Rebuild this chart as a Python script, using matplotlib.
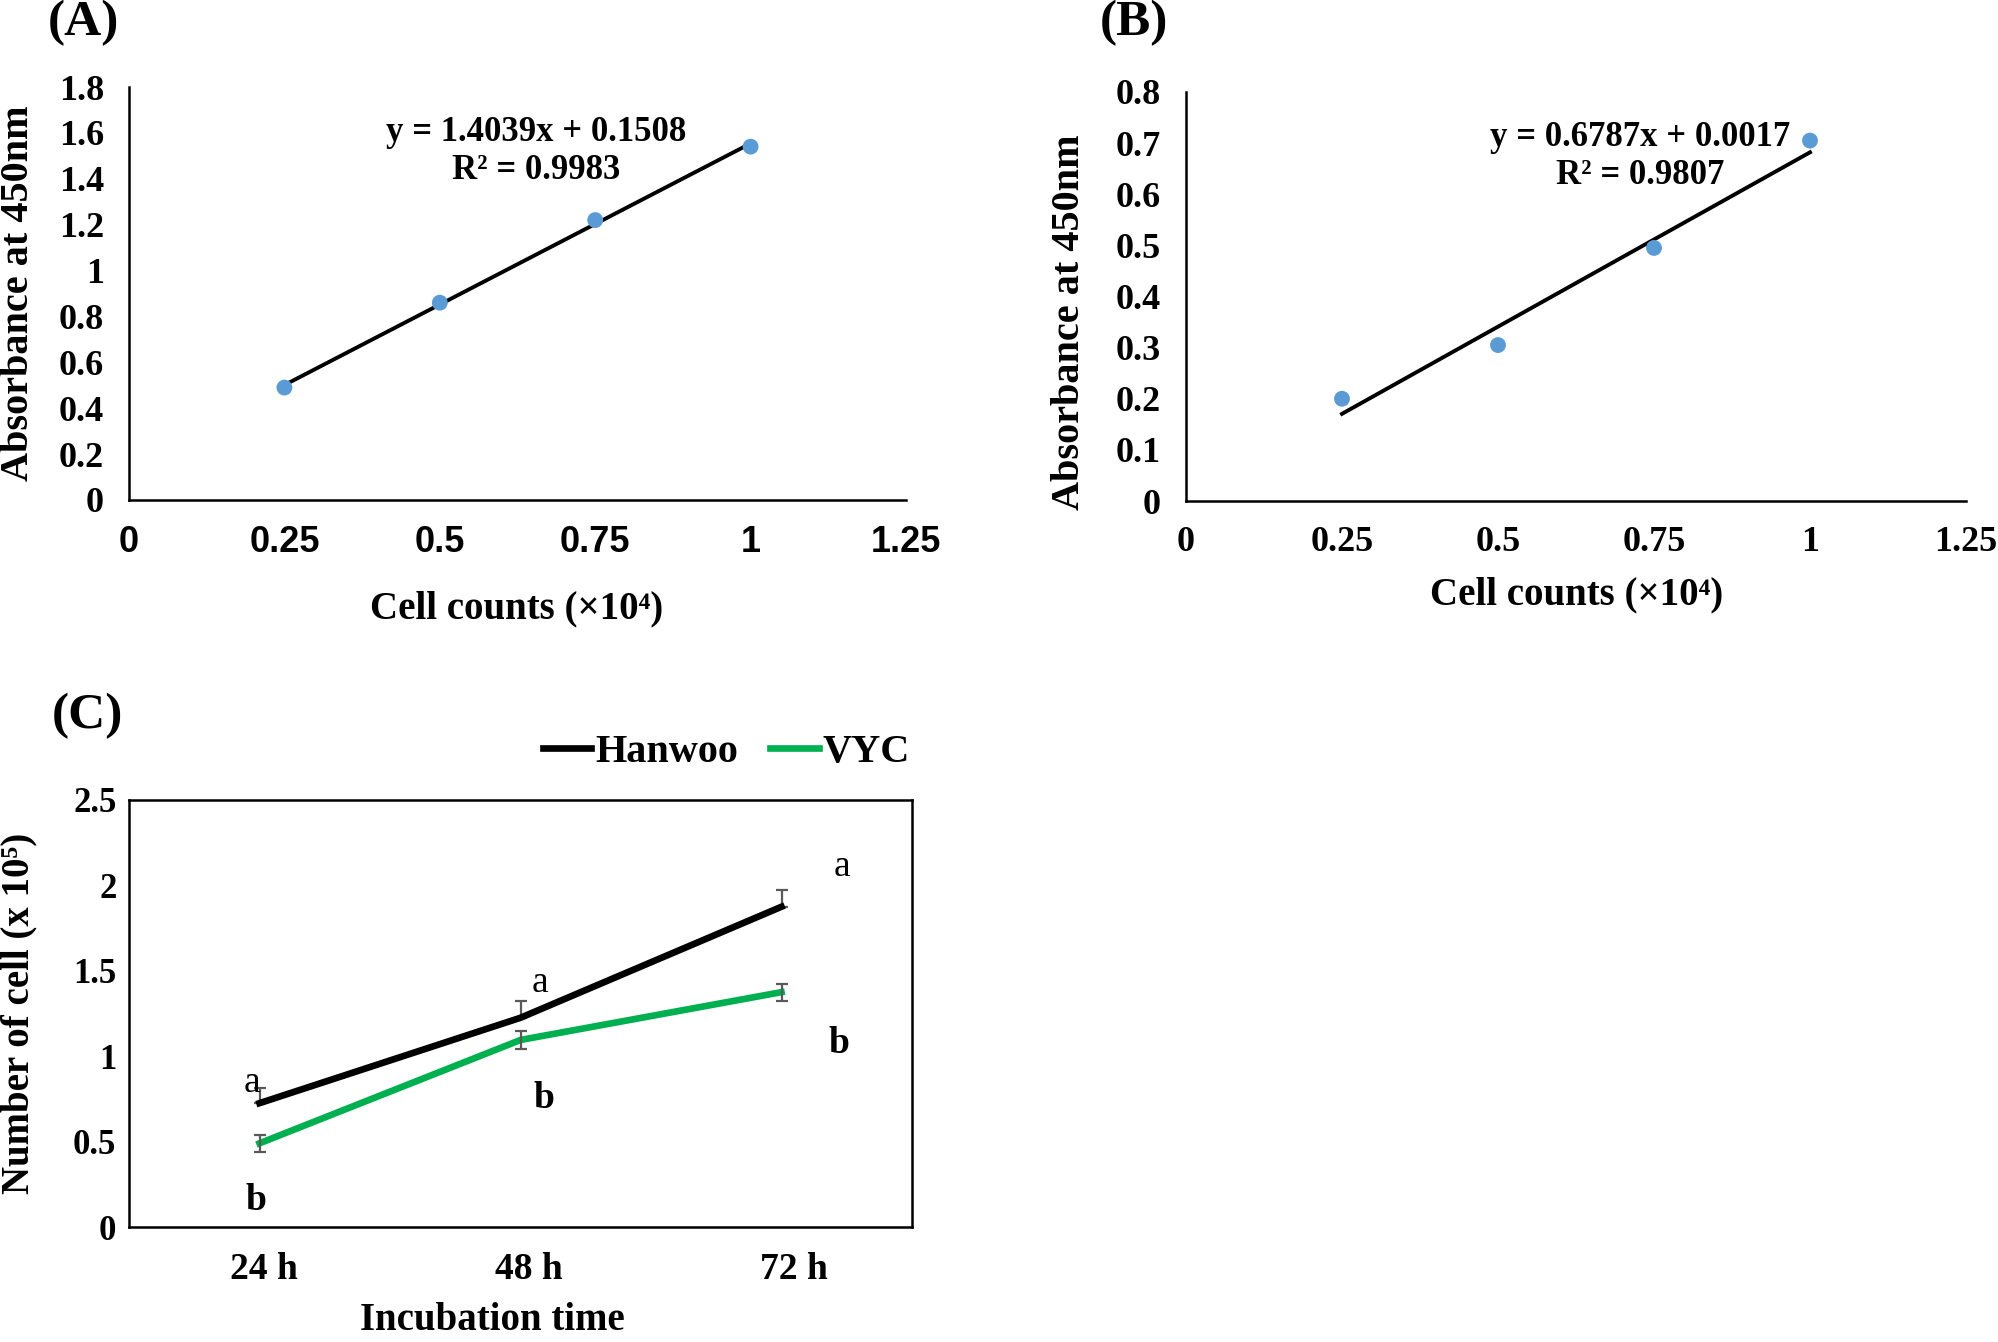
import matplotlib
matplotlib.use("Agg")
import matplotlib.pyplot as plt
import matplotlib.transforms as mtransforms
import numpy as np

plt.rcParams["font.family"] = ["Liberation Serif", "DejaVu Serif"]
plt.rcParams["font.weight"] = "bold"
plt.rcParams["axes.labelweight"] = "bold"

# panel A / B standard curves
CELLS = [0.25, 0.5, 0.75, 1.0]
ABS_A = [0.49, 0.86, 1.22, 1.54]
ABS_B = [0.20, 0.305, 0.495, 0.705]
EQ_A = "y = 1.4039x + 0.1508\nR² = 0.9983"
EQ_B = "y = 0.6787x + 0.0017\nR² = 0.9807"
XTICKS_AB = [0, 0.25, 0.5, 0.75, 1, 1.25]
XTICKLABELS_AB = ["0", "0.25", "0.5", "0.75", "1", "1.25"]

# panel C growth
TIMES = ["24 h", "48 h", "72 h"]
HANWOO = [0.725, 1.225, 1.875]
HANWOO_ERR = [0.09, 0.10, 0.10]
VYC = [0.49, 1.095, 1.375]
VYC_ERR = [0.05, 0.05, 0.05]
LETTERS_H = ["a", "a", "a"]
LETTERS_V = ["b", "b", "b"]

BLUE = "#5B9BD5"
GREEN = "#00B050"
W, H = 1998, 1342


def std_curve(ax, y, ymax, ystep, eq, eq_xy):
    ax.scatter(CELLS, y, s=130, color=BLUE, zorder=3, edgecolors="none")
    k, b = np.polyfit(CELLS, y, 1)
    xs = np.array([CELLS[0], CELLS[-1]])
    ax.plot(xs, k * xs + b, color="black", lw=2.8, zorder=2)
    ax.set_xlim(0, 1.25)
    ax.set_ylim(0, ymax)
    ax.set_xticks(XTICKS_AB)
    ax.set_xticklabels(XTICKLABELS_AB)
    yt = np.round(np.arange(0, ymax + ystep / 2, ystep), 2)
    ax.set_yticks(yt)
    ax.set_yticklabels([f"{v:g}" for v in yt])
    for s in ("top", "right"):
        ax.spines[s].set_visible(False)
    for s in ("left", "bottom"):
        ax.spines[s].set_linewidth(1.8)
    ax.tick_params(length=0, labelsize=26, pad=18)
    ax.text(eq_xy[0], eq_xy[1], eq, ha="center", va="center", fontsize=25,
            fontweight="bold", linespacing=1.2)


fig = plt.figure(figsize=(W / 100, H / 100), dpi=100)

axA = fig.add_axes([129 / W, 1 - 500 / H, 777 / W, 413 / H])
std_curve(axA, ABS_A, 1.8, 0.2, EQ_A, (0.655, 1.52))
for t in axA.get_xticklabels():
    t.set_family(["Liberation Sans Narrow", "Liberation Sans"])
axA.set_xlabel("Cell counts (×10⁴)", fontsize=28)
axA.xaxis.set_label_coords(0.499, -0.264)
axA.xaxis.label.set_va("center")
axA.set_ylabel("Absorbance at 450nm", fontsize=29)
axA.yaxis.set_label_coords(-0.1416, 0.501)
axA.yaxis.label.set_va("center")

axB = fig.add_axes([1186 / W, 1 - 501 / H, 780 / W, 409 / H])
std_curve(axB, ABS_B, 0.8, 0.1, EQ_B, (0.7276, 0.674))
axB.set_xlabel("Cell counts (×10⁴)", fontsize=28)
axB.xaxis.set_label_coords(0.501, -0.230)
axB.xaxis.label.set_va("center")
axB.set_ylabel("Absorbance at 450nm", fontsize=29)
axB.yaxis.set_label_coords(-0.149, 0.438)
axB.yaxis.label.set_va("center")

axC = fig.add_axes([129 / W, 1 - 1227 / H, 783 / W, 427 / H])
x = np.arange(len(TIMES))
axC.plot(x, HANWOO, color="black", lw=4.8, label="Hanwoo", zorder=3)
axC.errorbar(x, HANWOO, yerr=[np.zeros(3), HANWOO_ERR], fmt="none",
             ecolor="#595959", elinewidth=1.6, capsize=4.5, capthick=1.6, zorder=2)
axC.plot(x, VYC, color=GREEN, lw=4.8, label="VYC", zorder=3)
axC.errorbar(x, VYC, yerr=VYC_ERR, fmt="none", ecolor="#595959",
             elinewidth=1.6, capsize=4.5, capthick=1.6, zorder=4)
axC.set_xlim(-0.5, 2.5)
axC.set_ylim(0, 2.5)
axC.set_xticks(x)
axC.set_xticklabels(TIMES)
axC.set_yticks([0, 0.5, 1, 1.5, 2, 2.5])
axC.set_yticklabels(["0", "0.5", "1", "1.5", "2", "2.5"])
axC.tick_params(length=0, labelsize=25)
axC.tick_params(axis="y", pad=9)
axC.tick_params(axis="x", pad=18, labelsize=27)
# tick labels sit a little right of the points in the original
for t, dx in zip(axC.get_xticklabels(), (4, 8, 12)):
    t.set_transform(t.get_transform() + mtransforms.ScaledTranslation(dx / 100, 0, fig.dpi_scale_trans))
for s in axC.spines.values():
    s.set_linewidth(1.8)
# significance letters (placement beside each point)
h_pos = [(-0.03, 0.843), (1.076, 1.43), (2.23, 2.11)]
v_pos = [(-0.015, 0.157), (1.09, 0.754), (2.22, 1.075)]
for lab, (px, py) in zip(LETTERS_H, h_pos):
    axC.text(px, py, lab, ha="center", va="center", fontsize=27, fontweight="normal")
for lab, (px, py) in zip(LETTERS_V, v_pos):
    axC.text(px, py, lab, ha="center", va="center", fontsize=27, fontweight="bold")
axC.set_xlabel("Incubation time", fontsize=28)
axC.xaxis.set_label_coords(0.4636, -0.22)
axC.xaxis.label.set_va("center")
axC.set_ylabel("Number of cell (x 10⁵)", fontsize=28)
axC.yaxis.set_label_coords(-0.1405, 0.501)
axC.yaxis.label.set_va("center")
axC.legend(loc="center right", bbox_to_anchor=(1.018, 1.112), ncol=2, frameon=False,
           fontsize=29, handlelength=1.2, handletextpad=0.1, columnspacing=0.8,
           borderaxespad=0)

fig.text(83 / W, 1 - 23 / H, "(A)", fontsize=37, ha="center", va="center")
fig.text(1134 / W, 1 - 23 / H, "(B)", fontsize=37, ha="center", va="center")
fig.text(87 / W, 1 - 716 / H, "(C)", fontsize=37, ha="center", va="center")

fig.savefig("out.png", dpi=100)
